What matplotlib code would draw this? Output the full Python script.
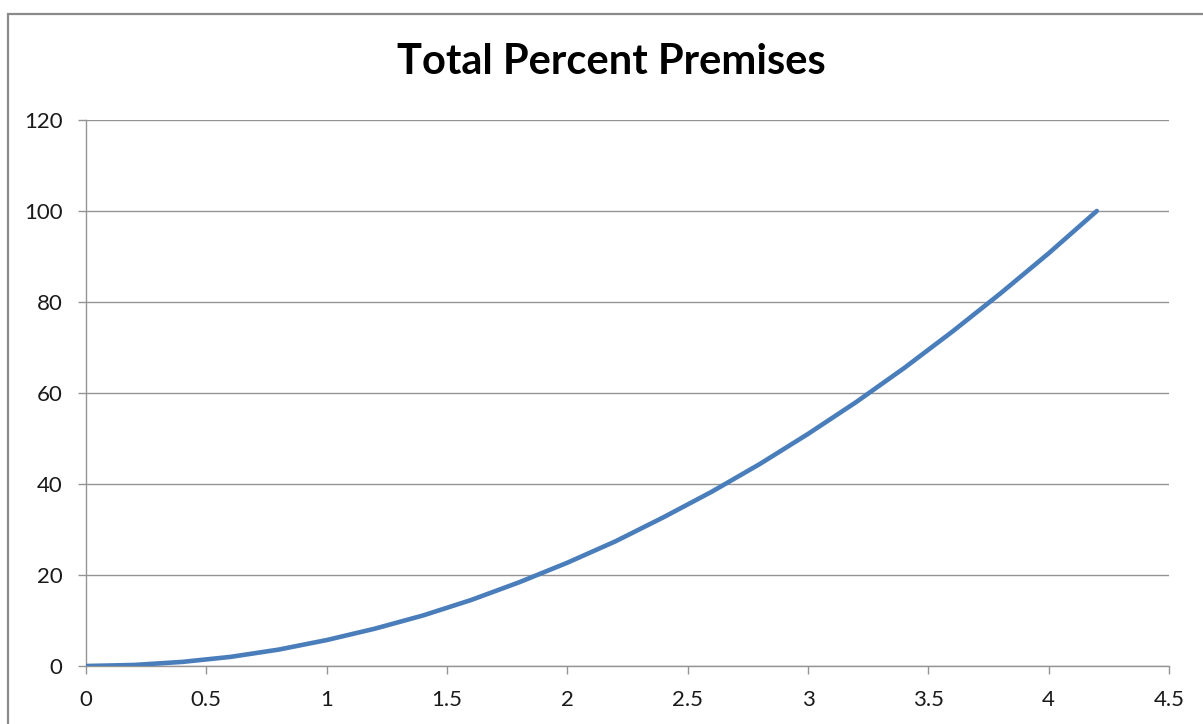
import matplotlib.pyplot as plt
from matplotlib.patches import Rectangle

plt.rcParams['font.family'] = ['Lato', 'DejaVu Sans']

# cumulative percent of premises vs. distance
x_vals = [0, 0.2, 0.4, 0.6, 0.8, 1.0, 1.2, 1.4, 1.6, 1.8, 2.0,
          2.2, 2.4, 2.6, 2.8, 3.0, 3.2, 3.4, 3.6, 3.8, 4.0, 4.2]
pct_vals = [0, 0.23, 0.9, 2.0, 3.6, 5.7, 8.2, 11.1, 14.5, 18.4, 22.7,
            27.4, 32.7, 38.3, 44.4, 51.0, 58.0, 65.5, 73.5, 81.9, 90.7, 100]

x_ticks = [0, 0.5, 1, 1.5, 2, 2.5, 3, 3.5, 4, 4.5]
x_labels = ['0', '0.5', '1', '1.5', '2', '2.5', '3', '3.5', '4', '4.5']
y_ticks = [0, 20, 40, 60, 80, 100, 120]

grey = '#949494'

fig = plt.figure(figsize=(12.03, 7.24), dpi=100)
ax = fig.add_axes([86 / 1203, 58 / 724, 1083 / 1203, 546 / 724])

# chart frame
fig.patches.append(Rectangle((8 / 1203, -0.05), 1.1, 0.05 + 710 / 724,
                             transform=fig.transFigure, fill=False,
                             edgecolor='#8a8a8a', linewidth=1.6))

ax.plot(x_vals, pct_vals, color='#4a7ebb', linewidth=3.3,
        solid_capstyle='round', zorder=3)

ax.set_xlim(0, 4.5)
ax.set_ylim(0, 120)
ax.set_xticks(x_ticks)
ax.set_xticklabels(x_labels)
ax.set_yticks(y_ticks)

ax.grid(axis='y', color=grey, linewidth=1.0)
ax.set_axisbelow(True)
for side in ['top', 'right']:
    ax.spines[side].set_visible(False)
for side in ['left', 'bottom']:
    ax.spines[side].set_color(grey)
    ax.spines[side].set_linewidth(1.0)

ax.tick_params(axis='both', direction='out', length=6, width=1.0,
               color=grey, labelsize=16, labelcolor='#1a1a1a')
ax.tick_params(axis='y', pad=11)
ax.tick_params(axis='x', pad=11)

fig.text(611 / 1203, 1 - 62 / 724, 'Total Percent Premises',
         ha='center', va='center', fontsize=30, fontweight='bold')

fig.savefig('out.png', dpi=100)
